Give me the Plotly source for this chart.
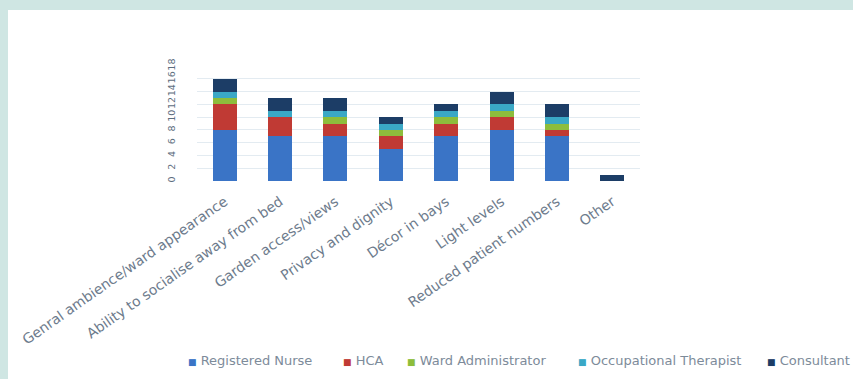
import plotly.graph_objects as go

categories = ["Genral ambience/ward appearance", "Ability to socialise away from bed",
              "Garden access/views", "Privacy and dignity", "Décor in bays",
              "Light levels", "Reduced patient numbers", "Other"]
registered_nurse = [8, 7, 7, 5, 7, 8, 7, 0]
hca = [4, 3, 2, 2, 2, 2, 1, 0]
ward_admin = [1, 0, 1, 1, 1, 1, 1, 0]
occ_therapist = [1, 1, 1, 1, 1, 1, 1, 0]
consultant = [2, 2, 2, 1, 1, 2, 2, 1]
series_names = ["Registered Nurse", "HCA", "Ward Administrator", "Occupational Therapist", "Consultant"]
colors = ["#3a74c6", "#c03a34", "#8dbd3c", "#3aa8c6", "#1c3d66"]
y_ticks = [0, 2, 4, 6, 8, 10, 12, 14, 16, 18]

series = [registered_nurse, hca, ward_admin, occ_therapist, consultant]

fig = go.Figure()
for name, vals, col in zip(series_names, series, colors):
    fig.add_trace(go.Bar(x=categories, y=vals, name=name, marker_color=col,
                         marker_line_width=0, showlegend=False))

W, H = 853, 379
L, R, T, B = 197, 213, 66, 198
pw, ph = W - L - R, H - T - B

def px(x):
    return (x - L) / pw

def py(y):
    return (H - B - y) / ph

# white card on teal background
fig.add_shape(type="rect", xref="paper", yref="paper", layer="below",
              x0=px(8), x1=px(W + 20), y0=py(H + 20), y1=py(10),
              fillcolor="white", line_width=0)

# legend as text annotations
leg_x = [186, 341, 405, 576, 765]
for name, col, lx in zip(series_names, colors, leg_x):
    fig.add_annotation(xref="paper", yref="paper", x=px(lx), y=py(360),
                       xanchor="left", yanchor="middle", showarrow=False,
                       text=f"<span style='color:{col};font-size:9px'>■</span> {name}",
                       font=dict(family="DejaVu Sans", size=13, color="#7d8b9a"))

fig.update_layout(
    width=W, height=H, barmode="stack", bargap=0.565,
    margin=dict(l=L, r=R, t=T, b=B, autoexpand=False),
    paper_bgcolor="#cfe6e3", plot_bgcolor="white",
    font=dict(family="DejaVu Sans", color="#6d7b8c"),
)
fig.update_xaxes(tickangle=-35, tickfont=dict(size=14, color="#6d7b8c"),
                 ticklabelstandoff=9,
                 showgrid=False, showline=False, ticks="", automargin=False)
fig.update_yaxes(range=[0, 18], tickvals=y_ticks, tickangle=-90,
                 tickfont=dict(size=9.5, color="#5d6d7e"), ticklabelstandoff=19,
                 showgrid=True, gridcolor="#e3ebf1", gridwidth=1,
                 zeroline=False, showline=False, automargin=False)

fig.write_html("out.html",
               config={"displayModeBar": False},
               post_script="document.body.style.margin='0';"
                           "document.body.style.overflow='hidden';"
                           "document.body.style.background='#cfe6e3';")
